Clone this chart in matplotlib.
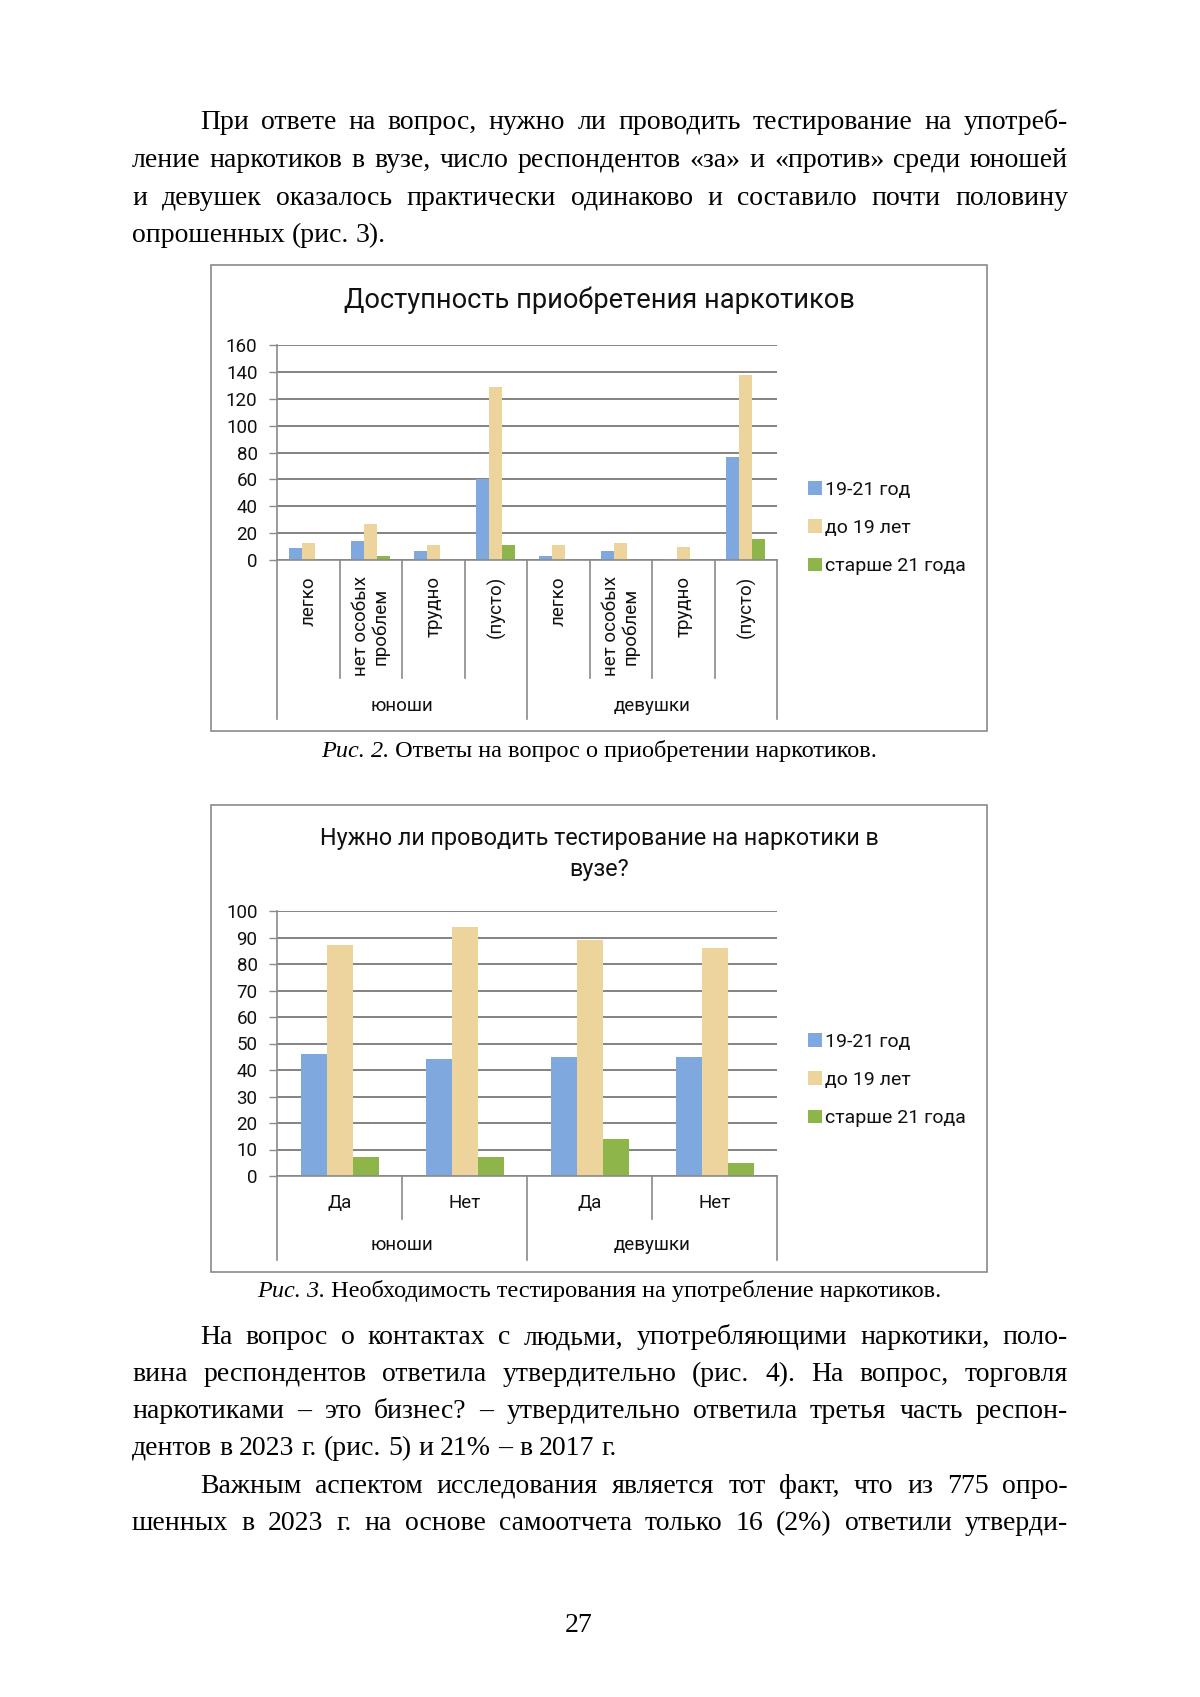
import matplotlib
matplotlib.use('Agg')
import matplotlib.pyplot as plt
from matplotlib.patches import Rectangle
import numpy as np

W, H = 1200, 1697
DPI = 100

# ---------------- data ----------------
series_names = ['19-21 год', 'до 19 лет', 'старше 21 года']
group_names = ['юноши', 'девушки']

c1_title = 'Доступность приобретения наркотиков'
c1_categories = ['легко', 'нет особых\nпроблем', 'трудно', '(пусто)',
                 'легко', 'нет особых\nпроблем', 'трудно', '(пусто)']
c1_19_21 = [9, 14, 7, 60, 3, 7, 1, 77]
c1_do19 = [13, 27, 11, 129, 11, 13, 10, 138]
c1_st21 = [0, 3, 0, 11, 0, 0, 0, 16]
c1_yticks = [0, 20, 40, 60, 80, 100, 120, 140, 160]

c2_title = 'Нужно ли проводить тестирование на наркотики в\nвузе?'
c2_categories = ['Да', 'Нет', 'Да', 'Нет']
c2_19_21 = [46, 44, 45, 45]
c2_do19 = [87, 94, 89, 86]
c2_st21 = [7, 7, 14, 5]
c2_yticks = [0, 10, 20, 30, 40, 50, 60, 70, 80, 90, 100]

para1 = ['При ответе на вопрос, нужно ли проводить тестирование на употреб-',
         'ление наркотиков в вузе, число респондентов «за» и «против» среди юношей',
         'и девушек оказалось практически одинаково и составило почти половину',
         'опрошенных (рис. 3).']
para2 = ['На вопрос о контактах с людьми, употребляющими наркотики, поло-',
         'вина респондентов ответила утвердительно (рис. 4). На вопрос, торговля',
         'наркотиками – это бизнес? – утвердительно ответила третья часть респон-',
         'дентов в 2023 г. (рис. 5) и 21% – в 2017 г.',
         'Важным аспектом исследования является тот факт, что из 775 опро-',
         'шенных в 2023 г. на основе самоотчета только 16 (2%) ответили утверди-']
cap1 = ('Рис. 2.', ' Ответы на вопрос о приобретении наркотиков.')
cap2 = ('Рис. 3.', ' Необходимость тестирования на употребление наркотиков.')
page_number = '27'

# ---------------- styles ----------------
SERIF = ['Liberation Serif', 'DejaVu Serif']
SANS = ['Roboto', 'DejaVu Sans']
COLORS = ['#7FA8DF', '#EDD39C', '#8DB54A']
GRID = '#7A7A7A'
EDGE = '#8A8A8A'
TXT = '#111111'
SMALL = 13.5

fig = plt.figure(figsize=(W / DPI, H / DPI), dpi=DPI)
fig.patch.set_facecolor('white')
r = fig.canvas.get_renderer()


def fx(x):
    return x / W


def fy(y):
    return 1 - y / H


def place_line(text, x0, x1, ybase, size, justify=True):
    words = text.split(' ')
    arts = [fig.text(0, fy(ybase), w, fontsize=size, family=SERIF,
                     va='baseline', ha='left', color='black') for w in words]
    widths = [a.get_window_extent(r).width for a in arts]
    if justify and len(words) > 1:
        gap = (x1 - x0 - sum(widths)) / (len(words) - 1)
    else:
        gap = size * DPI / 72 * 0.25
    x = x0
    for a, w in zip(arts, widths):
        a.set_x(fx(x))
        x += w + gap


def place_caption(parts, xc, ybase, size):
    a1 = fig.text(0, fy(ybase), parts[0], fontsize=size, family=SERIF,
                  style='italic', va='baseline', ha='left')
    a2 = fig.text(0, fy(ybase), parts[1], fontsize=size, family=SERIF,
                  va='baseline', ha='left')
    w1 = a1.get_window_extent(r).width
    w2 = a2.get_window_extent(r).width
    x0 = xc - (w1 + w2) / 2
    a1.set_x(fx(x0))
    a2.set_x(fx(x0 + w1))


BODY = 20
LEFT, INDENT, RIGHT = 132, 200, 1068

# paragraph 1
ys1 = [129, 167, 205, 242]
for i, (line, yb) in enumerate(zip(para1, ys1)):
    place_line(line, INDENT if i == 0 else LEFT, RIGHT, yb, BODY,
               justify=(i < len(para1) - 1))

# paragraph 2
ys2 = [1344, 1381, 1418, 1455, 1493, 1530]
starts = [INDENT, LEFT, LEFT, LEFT, INDENT, LEFT]
justs = [True, True, True, False, True, True]
for line, yb, x0, j in zip(para2, ys2, starts, justs):
    place_line(line, x0, RIGHT, yb, BODY, justify=j)

place_caption(cap1, 599, 757, 17.5)
place_caption(cap2, 599, 1297, 17.5)
fig.text(fx(579), fy(1632), page_number, fontsize=BODY, family=SERIF,
         ha='center', va='baseline')


def chart(box, ax_px, data, cats, yticks, ymax, title, title_y, title_size,
          title_ls, sep_small, sep_big, cat_label_y, group_label_y, legend_y,
          rotate):
    bx0, by0, bx1, by1 = box
    fig.patches.append(Rectangle((fx(bx0), fy(by1)), (bx1 - bx0) / W,
                                 (by1 - by0) / H, transform=fig.transFigure,
                                 facecolor='none', edgecolor=EDGE, lw=1.2,
                                 zorder=5))
    x0, ytop, x1, y0 = ax_px
    ax = fig.add_axes([fx(x0), fy(y0), (x1 - x0) / W, (y0 - ytop) / H])
    ax.patch.set_alpha(0)
    n = len(cats)
    ax.set_xlim(0, n)
    ax.set_ylim(0, ymax)
    xs = np.arange(n) + 0.5
    bw = 0.208
    for k, (vals, col) in enumerate(zip(data, COLORS)):
        ax.bar(xs + (k - 1) * bw, vals, width=bw, color=col, zorder=3,
               label=series_names[k], lw=0)
    ax.set_yticks(yticks)
    ax.set_yticklabels([str(v) for v in yticks], fontsize=SMALL,
                       family=SANS, color=TXT)
    ax.yaxis.grid(True, color=GRID, lw=1.3, zorder=0)
    ax.set_axisbelow(True)
    ax.tick_params(axis='y', length=6, width=1, color=EDGE, pad=8)
    ax.set_xticks([])
    for s in ['top', 'right']:
        ax.spines[s].set_visible(False)
    for s in ['left', 'bottom']:
        ax.spines[s].set_color(EDGE)
        ax.spines[s].set_linewidth(1.2)
        ax.spines[s].set_zorder(4)

    def yf(py):
        return (y0 - py) / (y0 - ytop)

    tr = ax.get_xaxis_transform()
    half = n // 2
    for b in range(n + 1):
        bottom = sep_big if b % half == 0 else sep_small
        ax.plot([b, b], [0, yf(bottom)], transform=tr, color=EDGE, lw=1.2,
                clip_on=False, zorder=4)
    for i, c in enumerate(cats):
        if rotate:
            ax.text(xs[i], yf(cat_label_y), c, transform=tr, rotation=90,
                    ha='center', va='top', multialignment='center',
                    fontsize=SMALL, family=SANS, color=TXT, linespacing=1.1)
        else:
            ax.text(xs[i], yf(cat_label_y), c, transform=tr, ha='center',
                    va='center', fontsize=SMALL, family=SANS, color=TXT)
    for g, name in enumerate(group_names):
        ax.text(half * g + half / 2, yf(group_label_y), name, transform=tr,
                ha='center', va='center', fontsize=SMALL, family=SANS,
                color=TXT)
    fig.text(fx((bx0 + bx1) / 2), fy(title_y), title, ha='center',
             va='center', fontsize=title_size, family=SANS, color=TXT,
             multialignment='center', linespacing=title_ls)
    leg = fig.legend(handles=ax.containers, labels=series_names,
                     loc='center left',
                     bbox_to_anchor=(fx(808), fy(legend_y)),
                     frameon=False, handlelength=0.7,
                     handleheight=0.7, handletextpad=0.15,
                     labelspacing=1.05, borderpad=0, borderaxespad=0,
                     prop={'family': SANS, 'size': 14})
    for t in leg.get_texts():
        t.set_color(TXT)
    return ax


chart(box=(211, 265, 987, 731), ax_px=(277, 345, 777, 560),
      data=[c1_19_21, c1_do19, c1_st21], cats=c1_categories,
      yticks=c1_yticks, ymax=160, title=c1_title, title_y=300,
      title_size=19.6, title_ls=1.2, sep_small=678, sep_big=719,
      cat_label_y=576, group_label_y=706, legend_y=528, rotate=True)

chart(box=(211, 805, 987, 1272), ax_px=(277, 911, 777, 1176),
      data=[c2_19_21, c2_do19, c2_st21], cats=c2_categories,
      yticks=c2_yticks, ymax=100, title=c2_title, title_y=854,
      title_size=16.8, title_ls=1.45, sep_small=1219, sep_big=1260,
      cat_label_y=1203, group_label_y=1245, legend_y=1080, rotate=False)

fig.savefig('out.png', dpi=DPI, facecolor='white')
